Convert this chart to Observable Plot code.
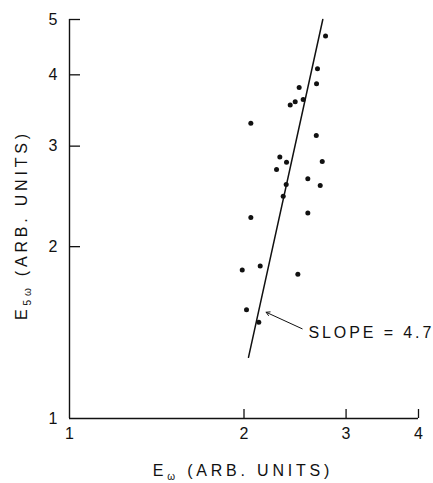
<!DOCTYPE html>
<html><head><meta charset="utf-8">
<script src="https://cdn.jsdelivr.net/npm/d3@7"></script>
<script src="https://cdn.jsdelivr.net/npm/@observablehq/plot@0.6"></script>
<style>body{margin:0;background:#fff} svg{display:block}</style>
</head><body><div id="chart"></div>
<script>
// Data (log-log axes)
const eOmega  = [2.765, 2.678, 2.668, 2.490, 2.530, 2.451, 2.403, 2.055, 2.665, 2.306, 2.368, 2.729, 2.276, 2.365, 2.577, 2.707, 2.337, 2.577, 2.055, 1.986, 2.133, 2.477, 2.020, 2.121];
const e5Omega = [4.68, 4.10, 3.86, 3.80, 3.62, 3.59, 3.54, 3.29, 3.13, 2.87, 2.81, 2.82, 2.73, 2.57, 2.63, 2.56, 2.45, 2.29, 2.25, 1.82, 1.85, 1.79, 1.55, 1.475];
const fitX = [2.036, 2.735];
const fitY = [1.28, 5.0];
const xTicks = [1, 2, 3, 4];
const yTicks = [1, 2, 3, 4, 5];
const slopeLabel = "SLOPE = 4.7";
const slopeAt = {x: 2.584, y: 1.414};
const arrowFrom = {x: 2.52, y: 1.436};
const arrowTo = {x: 2.184, y: 1.535};
const xTitle = ["E", "ω", " (ARB. UNITS)"];
const yTitle = ["E", "5ω", " (ARB. UNITS)"];

const points = eOmega.map((x, i) => ({x, y: e5Omega[i]}));
const fit = fitX.map((x, i) => ({x, y: fitY[i]}));

const ink = "#111";
const innerTickX = 1.0447; // y-axis ticks extend right
const innerTickY = 1.037;  // x-axis ticks extend up

const chart = Plot.plot({
  width: 433,
  height: 483,
  marginLeft: 69,
  marginRight: 15,
  marginTop: 19,
  marginBottom: 65,
  style: {fontFamily: "'Liberation Sans', Arial, sans-serif", fontSize: "16px", background: "white", color: ink},
  x: {type: "log", domain: [1, 4]},
  y: {type: "log", domain: [1, 5]},
  marks: [
    Plot.axisX({ticks: xTicks, tickFormat: d => String(d), tickSize: 0, tickPadding: 9, label: null, fontSize: 16}),
    Plot.axisY({ticks: yTicks, tickFormat: d => String(d), tickSize: 0, tickPadding: 12, label: null, fontSize: 16}),
    Plot.ruleX([1], {y1: 1, y2: 5, stroke: ink, strokeWidth: 1.4}),
    Plot.ruleY([1], {x1: 1, x2: 4, stroke: ink, strokeWidth: 1.4}),
    Plot.ruleY(yTicks.filter(d => d > 1), {x1: 1, x2: innerTickX, stroke: ink, strokeWidth: 1.3}),
    Plot.ruleX(xTicks.filter(d => d > 1), {y1: 1, y2: innerTickY, stroke: ink, strokeWidth: 1.3}),
    Plot.line(fit, {x: "x", y: "y", stroke: ink, strokeWidth: 1.5}),
    Plot.dot(points, {x: "x", y: "y", r: 2.5, fill: ink, stroke: "none"}),
    Plot.arrow([{x1: arrowFrom.x, y1: arrowFrom.y, x2: arrowTo.x, y2: arrowTo.y}], {x1: "x1", y1: "y1", x2: "x2", y2: "y2", stroke: ink, strokeWidth: 1, headLength: 6}),
    Plot.text([slopeLabel], {x: () => slopeAt.x, y: () => slopeAt.y, text: d => d, textAnchor: "start", fontSize: 16, fill: ink})
  ]
});

document.getElementById("chart").appendChild(chart);
const svg = d3.select(chart);
svg.selectAll("text").filter(function() { return this.textContent === slopeLabel; }).style("letter-spacing", "2.9px");

// x axis title with subscript
const xt = svg.append("text")
  .attr("x", 243).attr("y", 476)
  .attr("text-anchor", "middle")
  .attr("fill", ink)
  .style("font-size", "16px")
  .style("letter-spacing", "3.8px");
xt.append("tspan").text(xTitle[0]);
xt.append("tspan").attr("dy", 4).style("font-size", "10px").text(xTitle[1]);
xt.append("tspan").attr("dy", -4).text(xTitle[2]);

// y axis title with subscript
const yt = svg.append("text")
  .attr("transform", "translate(27,225) rotate(-90)")
  .attr("text-anchor", "middle")
  .attr("fill", ink)
  .style("font-size", "16px")
  .style("letter-spacing", "3.8px");
yt.append("tspan").text(yTitle[0]);
yt.append("tspan").attr("dy", 4).style("font-size", "10px").text(yTitle[1]);
yt.append("tspan").attr("dy", -4).text(yTitle[2]);
</script>
</body></html>
